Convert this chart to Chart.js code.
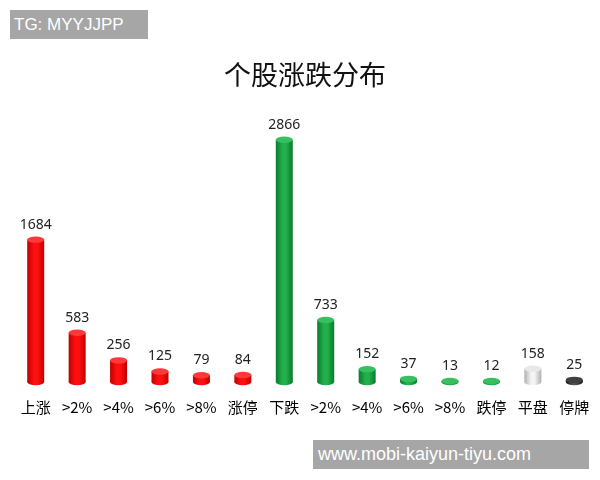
<!DOCTYPE html>
<html><head><meta charset="utf-8">
<script src="https://cdn.jsdelivr.net/npm/chart.js@4/dist/chart.umd.min.js"></script>
<style>
html,body{margin:0;padding:0;background:#fff;}
#wrap{position:relative;width:600px;height:480px;}
canvas{position:absolute;left:0;top:0;}
.wm{position:absolute;background:#a6a6a6;color:#fff;font-family:"Liberation Sans",Arial,sans-serif;white-space:nowrap;}
#wm1{left:10px;top:10px;width:138px;height:29px;line-height:29px;font-size:17px;padding-left:4px;box-sizing:border-box;}
#wm2{left:313px;top:440px;width:276px;height:29px;line-height:29px;font-size:18px;padding-left:5px;box-sizing:border-box;}
</style></head>
<body><div id="wrap"><canvas id="c" width="600" height="480"></canvas>
<div class="wm" id="wm1">TG: MYYJJPP</div>
<div class="wm" id="wm2">www.mobi-kaiyun-tiyu.com</div></div>
<script>
const categories = ["上涨", ">2%", ">4%", ">6%", ">8%", "涨停", "下跌", ">2%", ">4%", ">6%", ">8%", "跌停", "平盘", "停牌"];
const counts = [1684, 583, 256, 125, 79, 84, 2866, 733, 152, 37, 13, 12, 158, 25];
const colorGroups = ["red","red","red","red","red","red","green","green","green","green","green","green","silver","dark"];
const titleText = "个股涨跌分布";

const palette = {
  red:   {edge:"#c00000", mid:"#ff1010", cap:"#ff3838"},
  green: {edge:"#0b7a2e", mid:"#22b04a", cap:"#38c060"},
  silver:{edge:"#b0b0b0", mid:"#f4f4f4", cap:"#e8e8e8"},
  dark:  {edge:"#111111", mid:"#505050", cap:"#404040"}
};

function bodyGradient(ctx, x, w, p){
  const g = ctx.createLinearGradient(x - w/2, 0, x + w/2, 0);
  g.addColorStop(0, p.edge);
  g.addColorStop(0.4, p.mid);
  g.addColorStop(0.6, p.mid);
  g.addColorStop(1, p.edge);
  return g;
}

const cylinderPlugin = {
  id: "cylinder",
  afterDatasetsDraw(chart){
    const ctx = chart.ctx;
    const meta = chart.getDatasetMeta(0);
    meta.data.forEach((bar, i) => {
      const p = palette[colorGroups[i]];
      const w = bar.width, x = bar.x, top = bar.y, base = bar.base;
      const ry = 3.2;
      ctx.save();
      ctx.fillStyle = bodyGradient(ctx, x, w, p);
      ctx.fillRect(x - w/2, top, w, base - top);
      ctx.beginPath();
      ctx.ellipse(x, base, w/2, ry, 0, 0, Math.PI*2);
      ctx.fill();
      ctx.beginPath();
      ctx.ellipse(x, top, w/2, ry, 0, 0, Math.PI*2);
      ctx.fillStyle = p.cap;
      ctx.fill();
      ctx.fillStyle = "#222";
      ctx.font = "14px 'Noto Sans', sans-serif";
      ctx.textAlign = "center";
      ctx.textBaseline = "bottom";
      ctx.fillText(String(counts[i]), x, top - 8);
      ctx.restore();
    });
  }
};

new Chart(document.getElementById("c"), {
  type: "bar",
  data: {
    labels: categories,
    datasets: [{
      data: counts,
      backgroundColor: "rgba(0,0,0,0)",
      borderWidth: 0,
      barThickness: 17
    }]
  },
  options: {
    responsive: false,
    animation: false,
    layout: { padding: { left: 15, right: 5, top: 0, bottom: 56 } },
    plugins: {
      legend: { display: false },
      tooltip: { enabled: false },
      title: {
        display: true,
        text: titleText,
        color: "#111",
        font: { family: "'Noto Sans CJK SC', sans-serif", size: 27, weight: "normal" },
        padding: { top: 59, bottom: 10 }
      }
    },
    scales: {
      x: {
        grid: { display: false },
        border: { display: false },
        ticks: { color: "#000", font: { family: "'Noto Sans CJK SC', 'Noto Sans', sans-serif", size: 15 }, padding: 8, maxRotation: 0, autoSkip: false }
      },
      y: {
        display: false,
        min: 0,
        max: 3320
      }
    }
  },
  plugins: [cylinderPlugin]
});
</script>
</body></html>
